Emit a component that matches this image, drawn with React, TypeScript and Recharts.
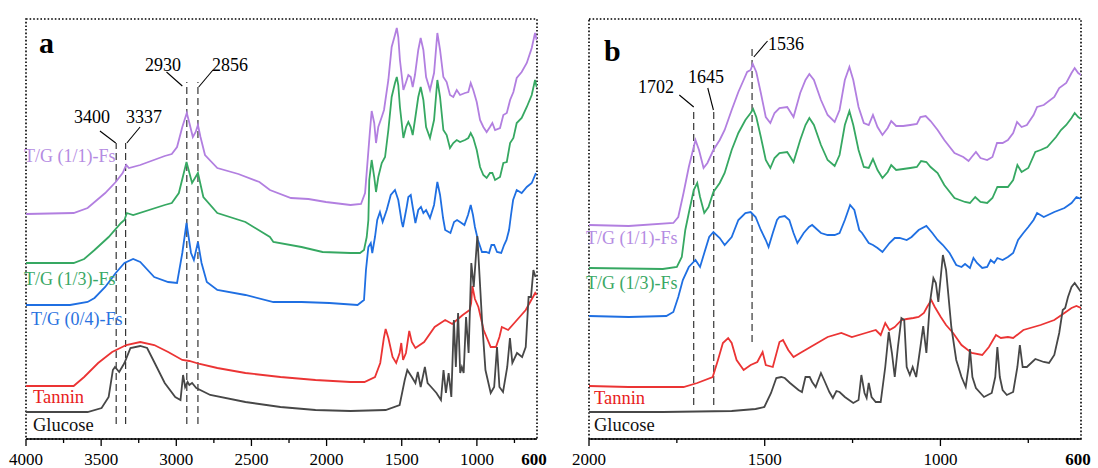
import React from "react";
import { LineChart, Line, XAxis, YAxis, ReferenceLine, ReferenceArea } from "recharts";

type Pt = [number, number];

// panel a, wavenumber (cm-1) vs offset transmittance (a.u.)
const aTG11: Pt[] = [[4000,225],[3683,226],[3590,231],[3473,246],[3403,257],[3357,266],[3333,274],[3315,271],[3240,274],[3077,283],[3030,285],[2995,292],[2960,312],[2930,326],[2913,316],[2890,302],[2871,307],[2856,314],[2839,302],[2809,284],[2727,271],[2587,265],[2447,257],[2377,249],[2237,241],[2121,240],[2004,237],[1841,234],[1771,235],[1744,246],[1711,309],[1700,328],[1683,316],[1671,296],[1656,312],[1633,322],[1618,329],[1589,359],[1567,392],[1545,404],[1533,411],[1523,402],[1512,379],[1489,349],[1471,357],[1456,364],[1440,362],[1427,352],[1412,364],[1390,389],[1374,401],[1356,389],[1338,362],[1312,349],[1285,366],[1263,406],[1245,389],[1223,362],[1201,357],[1179,344],[1157,342],[1134,349],[1112,344],[1079,346],[1057,347],[1041,356],[1024,349],[1001,337],[979,319],[957,312],[935,307],[913,312],[897,316],[879,309],[846,311],[824,324],[801,326],[779,339],[757,347],[735,361],[702,367],[668,376],[635,391],[613,406],[602,399]];
const aTG13: Pt[] = [[4000,176],[3683,176],[3613,180],[3544,189],[3450,202],[3368,216],[3345,219],[3329,226],[3287,224],[3077,234],[3030,236],[2983,246],[2932,277],[2895,256],[2856,266],[2820,242],[2727,226],[2540,217],[2377,202],[2354,197],[2167,192],[2027,187],[1841,186],[1778,186],[1751,189],[1733,202],[1722,219],[1716,259],[1700,279],[1683,262],[1671,247],[1656,262],[1633,276],[1611,282],[1589,309],[1567,342],[1545,356],[1533,362],[1523,354],[1512,332],[1489,301],[1471,312],[1456,317],[1440,312],[1427,304],[1412,319],[1390,342],[1374,352],[1356,339],[1338,312],[1312,301],[1285,319],[1263,359],[1245,342],[1223,309],[1201,304],[1179,291],[1157,296],[1134,299],[1112,297],[1079,299],[1057,301],[1041,306],[1024,301],[1001,289],[979,272],[957,264],[935,261],[913,266],[897,266],[879,259],[846,262],[824,276],[801,277],[779,296],[757,301],[735,316],[702,321],[668,332],[635,344],[613,359],[602,352]];
const aTG04: Pt[] = [[4000,134],[3707,134],[3590,137],[3544,141],[3473,152],[3403,166],[3345,176],[3287,180],[3240,177],[3147,162],[3054,157],[2995,156],[2960,186],[2932,216],[2902,186],[2883,179],[2856,197],[2832,176],[2797,157],[2727,149],[2540,144],[2354,137],[2167,137],[1981,136],[1794,134],[1751,139],[1738,169],[1722,192],[1706,196],[1696,186],[1678,202],[1663,219],[1645,227],[1627,217],[1600,229],[1573,244],[1545,249],[1523,239],[1500,217],[1492,212],[1467,232],[1456,242],[1440,244],[1427,232],[1409,216],[1390,229],[1372,232],[1356,226],[1338,229],[1312,221],[1285,234],[1263,257],[1245,244],[1225,221],[1211,209],[1176,206],[1152,217],[1132,219],[1112,217],[1083,214],[1059,224],[1041,234],[1026,224],[1013,212],[993,199],[966,187],[939,187],[919,186],[903,194],[885,194],[866,187],[838,186],[819,194],[803,199],[786,209],[773,224],[759,239],[735,249],[702,246],[668,252],[635,256],[607,266]];
const aTannin: Pt[] = [[4000,53],[3683,53],[3613,62],[3520,76],[3427,87],[3333,94],[3240,97],[3147,94],[3054,87],[2960,79],[2913,78],[2844,75],[2727,71],[2540,66],[2307,62],[2074,59],[1841,57],[1748,57],[1678,62],[1643,76],[1619,101],[1607,110],[1589,101],[1561,82],[1537,76],[1514,86],[1503,96],[1491,79],[1472,86],[1450,108],[1433,97],[1409,91],[1351,97],[1281,112],[1211,119],[1164,115],[1118,121],[1094,124],[1048,129],[1038,136],[1030,153],[1013,140],[990,132],[955,109],[908,92],[873,92],[850,102],[834,112],[792,109],[745,117],[675,129],[612,146],[602,144]];
const aGlucose: Pt[] = [[4000,27],[3590,27],[3497,31],[3450,42],[3422,69],[3408,72],[3380,67],[3345,76],[3305,91],[3240,93],[3194,91],[3147,77],[3077,56],[3007,42],[2972,39],[2955,64],[2941,52],[2925,57],[2913,54],[2895,56],[2867,51],[2774,44],[2540,37],[2307,32],[2074,29],[1841,28],[1607,29],[1514,34],[1480,59],[1463,69],[1433,62],[1409,56],[1393,67],[1374,52],[1346,72],[1328,56],[1304,52],[1269,46],[1239,39],[1222,69],[1206,46],[1188,66],[1170,42],[1153,119],[1140,72],[1125,126],[1111,66],[1100,72],[1088,66],[1072,122],[1055,86],[1037,176],[1021,152],[997,203],[966,119],[943,69],[908,46],[885,52],[866,92],[850,52],[826,47],[798,72],[780,101],[764,76],[733,86],[699,82],[675,92],[656,142],[640,142],[624,169],[610,162]];

// panel b, 2000-600 cm-1
const bTG11: Pt[] = [[2000,214],[1887,213],[1760,216],[1746,222],[1731,246],[1716,272],[1702,292],[1697,299],[1687,289],[1674,271],[1663,276],[1646,289],[1628,299],[1614,309],[1594,329],[1575,347],[1560,359],[1550,367],[1540,369],[1534,375],[1524,367],[1511,346],[1497,322],[1484,316],[1472,326],[1458,331],[1436,332],[1418,322],[1399,346],[1384,359],[1373,365],[1360,359],[1340,339],[1321,324],[1301,317],[1287,329],[1272,359],[1259,372],[1248,359],[1233,332],[1218,316],[1204,314],[1192,324],[1179,312],[1165,304],[1150,311],[1140,318],[1126,313],[1106,313],[1086,314],[1067,315],[1057,322],[1042,323],[1028,318],[1008,309],[989,299],[960,286],[935,282],[920,278],[911,282],[899,287],[886,281],[867,279],[852,282],[839,296],[823,296],[808,299],[793,306],[782,317],[769,312],[754,314],[735,324],[725,332],[706,334],[676,342],[662,351],[642,356],[627,366],[618,371],[608,366],[600,364]];
const bTG13: Pt[] = [[2000,171],[1790,170],[1750,172],[1736,182],[1726,209],[1716,226],[1702,249],[1692,256],[1684,242],[1672,226],[1660,232],[1646,247],[1628,256],[1614,266],[1594,289],[1575,306],[1555,319],[1540,326],[1533,330],[1524,322],[1511,302],[1497,279],[1484,271],[1472,281],[1458,286],[1436,287],[1418,277],[1399,299],[1384,314],[1373,321],[1360,314],[1340,294],[1321,279],[1301,273],[1287,284],[1272,314],[1259,328],[1248,314],[1233,289],[1218,272],[1204,271],[1192,280],[1179,269],[1165,261],[1150,267],[1140,274],[1126,269],[1106,270],[1086,271],[1067,272],[1055,278],[1040,277],[1028,272],[1008,266],[989,254],[960,241],[930,237],[916,236],[901,242],[886,237],[867,236],[852,241],[838,252],[823,252],[808,252],[793,259],[781,274],[769,267],[750,271],[730,287],[715,289],[696,292],[671,302],[657,309],[642,314],[627,321],[618,326],[608,322],[600,320]];
const bTG04: Pt[] = [[2000,123],[1887,122],[1780,123],[1760,127],[1746,142],[1733,159],[1716,172],[1697,179],[1684,172],[1672,186],[1658,202],[1646,207],[1628,201],[1614,194],[1594,202],[1575,219],[1555,226],[1540,227],[1526,222],[1511,209],[1497,199],[1489,192],[1477,206],[1465,219],[1458,222],[1443,223],[1430,219],[1418,206],[1407,196],[1389,206],[1374,212],[1365,214],[1340,206],[1321,204],[1301,204],[1287,206],[1272,219],[1257,234],[1245,229],[1231,209],[1223,206],[1204,196],[1192,194],[1179,191],[1165,187],[1145,196],[1130,201],[1116,201],[1096,199],[1082,202],[1062,209],[1040,213],[1023,206],[1008,199],[993,194],[974,186],[955,174],[940,172],[930,175],[916,171],[906,181],[896,176],[881,171],[867,172],[857,179],[847,176],[838,181],[823,179],[808,182],[793,186],[779,199],[764,206],[750,212],[735,219],[725,226],[706,222],[676,227],[647,231],[627,236],[613,242],[600,240]];
const bTannin: Pt[] = [[2000,53],[1887,52],[1790,52],[1731,52],[1692,56],[1648,62],[1633,79],[1619,96],[1604,101],[1594,96],[1580,79],[1560,69],[1540,74],[1521,77],[1506,87],[1497,74],[1477,72],[1458,97],[1448,99],[1433,89],[1418,82],[1399,86],[1360,94],[1321,102],[1282,106],[1252,102],[1213,106],[1184,109],[1170,104],[1157,116],[1145,109],[1130,112],[1111,119],[1096,120],[1077,121],[1062,122],[1047,126],[1038,132],[1026,139],[1016,132],[999,122],[984,114],[964,106],[940,94],[911,86],[881,84],[862,92],[842,104],[828,101],[808,102],[793,101],[764,109],[715,114],[676,119],[647,126],[627,131],[613,133],[600,131]];
const bGlucose: Pt[] = [[2000,27],[1975,27],[1790,27],[1594,28],[1526,30],[1501,32],[1482,46],[1467,61],[1453,62],[1443,61],[1428,56],[1404,49],[1394,47],[1384,62],[1372,62],[1365,57],[1355,52],[1340,66],[1331,59],[1316,47],[1306,41],[1296,48],[1287,47],[1272,42],[1248,36],[1233,39],[1225,64],[1216,46],[1210,41],[1204,56],[1196,42],[1184,37],[1170,37],[1157,72],[1147,107],[1138,86],[1130,62],[1121,92],[1111,121],[1103,119],[1096,72],[1087,64],[1079,72],[1069,62],[1057,92],[1049,113],[1040,86],[1030,136],[1020,161],[1013,156],[1006,137],[998,166],[993,184],[984,169],[969,112],[955,79],[940,62],[928,52],[920,72],[916,90],[909,62],[899,51],[876,42],[854,46],[844,62],[838,92],[831,62],[823,49],[811,44],[793,47],[781,72],[774,94],[766,72],[754,72],[730,80],[706,77],[691,76],[676,84],[662,106],[652,129],[645,131],[637,142],[627,152],[618,156],[608,151],[600,147]];

const aTicks = [4000, 3750, 3500, 3250, 3000, 2750, 2500, 2250, 2000, 1750, 1500, 1250, 1000, 750, 600];
const aMajor = [4000, 3500, 3000, 2500, 2000, 1500, 1000, 600];
const bTicks = [2000, 1750, 1500, 1250, 1000, 750, 600];
const bMajor = [2000, 1500, 1000, 600];

// dashed marker lines: [wavenumber, bottom, top]; leaders: [x1, y1, x2, y2]
const aMarkLines: [number, number, number][] = [[3400, 15, 296], [3337, 15, 296], [2930, 15, 357], [2856, 15, 357]];
const aLeaders: [number, number, number, number][] = [[3508, 308, 3403, 296], [3241, 312, 3329, 296], [3065, 367, 2960, 353], [2756, 369, 2851, 352]];
const bMarkLines: [number, number, number][] = [[1702, 34, 330], [1645, 34, 329], [1536, 97, 392]];
const bLeaders: [number, number, number, number][] = [[1743, 344, 1702, 332], [1662, 351, 1646, 329], [1492, 398, 1531, 382]];

const FONT = '"Liberation Serif", "Times New Roman", serif';
const C = { tg11: "#b27fe0", tg13: "#36a862", tg04: "#1f6fe2", tannin: "#eb3434", glucose: "#474747" };

const toPts = (arr: Pt[]) => arr.map(([x, v]) => ({ x, v }));

const makeTick = (majors: number[]) => (props: any) => {
  const { x, y, payload } = props;
  const val = payload.value;
  const major = majors.includes(val);
  return (
    <g>
      {val !== 600 && (
        <line x1={x} x2={x} y1={y} y2={y + (major ? 7 : 4)} stroke="#000" strokeWidth={1.3} />
      )}
      {major && (
        <text x={val === 600 ? x - 3 : x} y={y + 25.5} textAnchor="middle" fontFamily={FONT} fontSize={17} fontWeight={val === 600 ? 700 : 400} fill="#000">
          {val}
        </text>
      )}
    </g>
  );
};

interface PanelProps {
  width: number;
  marginLeft: number;
  marginRight: number;
  domain: [number, number];
  ticks: number[];
  majors: number[];
  series: { data: Pt[]; color: string }[];
  marks: [number, number, number][];
  leaders: [number, number, number, number][];
}

function Panel({ width, marginLeft, marginRight, domain, ticks, majors, series, marks, leaders }: PanelProps) {
  return (
    <LineChart width={width} height={468} margin={{ top: 19, right: marginRight, left: marginLeft, bottom: 0 }}>
      <XAxis
        type="number"
        dataKey="x"
        domain={domain}
        reversed
        allowDataOverflow
        ticks={ticks}
        interval={0}
        height={29}
        tickSize={0}
        tickMargin={0}
        tickLine={false}
        tick={makeTick(majors)}
        axisLine={{ stroke: "#000", strokeWidth: 1.3 }}
      />
      <YAxis type="number" hide domain={[0, 420]} allowDataOverflow />
      <ReferenceArea x1={domain[0]} x2={domain[1]} y1={0} y2={420} fill="none" stroke="#000" strokeWidth={1.6} strokeDasharray="1.6 2" />
      {marks.map(([wn, y1, y2]) => (
        <ReferenceLine key={"m" + wn} segment={[{ x: wn, y: y1 }, { x: wn, y: y2 }]} stroke="#222" strokeWidth={1.1} strokeDasharray="7 4" />
      ))}
      {leaders.map(([x1, y1, x2, y2]) => (
        <ReferenceLine key={"l" + x1} segment={[{ x: x1, y: y1 }, { x: x2, y: y2 }]} stroke="#000" strokeWidth={1.1} />
      ))}
      {series.map((s, i) => (
        <Line
          key={i}
          data={toPts(s.data)}
          dataKey="v"
          type="linear"
          dot={false}
          stroke={s.color}
          strokeWidth={1.8}
          isAnimationActive={false}
        />
      ))}
    </LineChart>
  );
}

const labelStyle = { fontFamily: FONT };

export default function App() {
  return (
    <div style={{ position: "fixed", left: 0, top: 0, width: 1098, height: 468, background: "#fff" }}>
      <div style={{ position: "absolute", left: 0, top: 0 }}>
        <Panel
          width={550}
          marginLeft={26}
          marginRight={13}
          domain={[600, 4000]}
          ticks={aTicks}
          majors={aMajor}
          series={[
            { data: aTG11, color: C.tg11 },
            { data: aTG13, color: C.tg13 },
            { data: aTG04, color: C.tg04 },
            { data: aTannin, color: C.tannin },
            { data: aGlucose, color: C.glucose },
          ]}
          marks={aMarkLines}
          leaders={aLeaders}
        />
      </div>
      <div style={{ position: "absolute", left: 560, top: 0 }}>
        <Panel
          width={538}
          marginLeft={29}
          marginRight={17}
          domain={[600, 2000]}
          ticks={bTicks}
          majors={bMajor}
          series={[
            { data: bTG11, color: C.tg11 },
            { data: bTG13, color: C.tg13 },
            { data: bTG04, color: C.tg04 },
            { data: bTannin, color: C.tannin },
            { data: bGlucose, color: C.glucose },
          ]}
          marks={bMarkLines}
          leaders={bLeaders}
        />
      </div>
      <svg width={1098} height={468} style={{ position: "absolute", left: 0, top: 0, pointerEvents: "none" }}>
        <g style={labelStyle}>
          <text x={39} y={53} fontSize={30} fontWeight={700}>a</text>
          <text x={74} y={123} fontSize={18}>3400</text>
          <text x={126} y={123} fontSize={18}>3337</text>
          <text x={145} y={71} fontSize={18}>2930</text>
          <text x={212} y={71} fontSize={18}>2856</text>
          <text x={24} y={162} fontSize={18} fill="#b58ce2">T/G (1/1)-Fs</text>
          <text x={24} y={285} fontSize={18} fill="#3aa865">T/G (1/3)-Fs</text>
          <text x={31} y={325} fontSize={18} fill="#2a72e0">T/G (0/4)-Fs</text>
          <text x={33} y={403} fontSize={18.5} fill="#e82020">Tannin</text>
          <text x={33} y={431} fontSize={18.5} fill="#111">Glucose</text>

          <text x={604} y={61} fontSize={30} fontWeight={700}>b</text>
          <text x={638} y={93} fontSize={18}>1702</text>
          <text x={688} y={83} fontSize={18}>1645</text>
          <text x={768} y={50} fontSize={18}>1536</text>
          <text x={586} y={244} fontSize={18} fill="#b58ce2">T/G (1/1)-Fs</text>
          <text x={586} y={289} fontSize={18} fill="#3aa865">T/G (1/3)-Fs</text>
          <text x={594} y={404} fontSize={18.5} fill="#e82020">Tannin</text>
          <text x={594} y={431} fontSize={18.5} fill="#111">Glucose</text>
        </g>
      </svg>
    </div>
  );
}
